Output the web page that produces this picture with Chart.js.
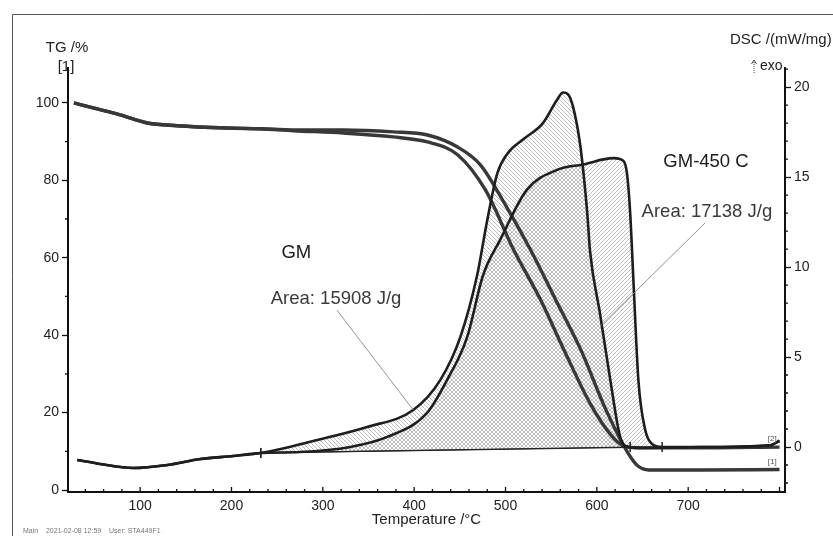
<!DOCTYPE html>
<html>
<head>
<meta charset="utf-8">
<title>TG / DSC</title>
<script src="https://cdn.jsdelivr.net/npm/chart.js@4/dist/chart.umd.min.js"></script>
<style>
  html, body { margin: 0; padding: 0; background: #fff; }
  #wrap { width: 833px; height: 536px; position: relative; }
</style>
</head>
<body>
<div id="wrap"><canvas id="tgChart" width="833" height="536"></canvas></div>
<script>
'use strict';

// axis tick values
var xTicks = [100, 200, 300, 400, 500, 600, 700];
var tgTicks = [0, 20, 40, 60, 80, 100];
var dscTicks = [0, 5, 10, 15, 20];

// TG curves (%), temperature in °C
var tgRun1Temp = [27.5, 48.5, 78, 108, 140.5, 195, 231.5, 268, 322.5, 377, 414.5, 447.5, 472.5, 500, 527.5, 555, 582.5, 610, 634, 645, 657, 714, 800];
var tgRun1 = [100, 98.7, 96.9, 94.8, 94.1, 93.5, 93.3, 93.0, 93.0, 92.5, 91.7, 88.6, 84.0, 73.6, 62.0, 49.1, 36.2, 20.7, 9.6, 6.2, 5.2, 5.2, 5.3];

var tgRun2Temp = [27.5, 48.5, 78, 108, 140.5, 195, 231.5, 268, 322.5, 377, 414.5, 447.5, 478, 509, 538.5, 564, 593.5, 615.5, 629.5, 648, 714, 800];
var tgRun2 = [100, 98.7, 96.9, 94.8, 94.1, 93.5, 93.3, 92.8, 92.2, 91.2, 89.9, 86.6, 77.5, 62.0, 49.1, 36.2, 22.0, 14.2, 11.4, 10.9, 10.9, 11.1];

// DSC curves (mW/mg)
var dscGMTemp = [31, 56, 92, 130, 166, 202, 232, 294, 348.5, 399, 428.5, 450.5, 469, 480, 491, 502, 519.5, 541, 556.5, 563, 568.5, 574, 582, 589.5, 592.5, 603.5, 614.5, 625.5, 633, 648, 715, 790, 800];
var dscGM = [-0.72, -0.94, -1.17, -1.0, -0.67, -0.5, -0.33, 0.39, 1.11, 2.06, 3.72, 6.11, 9.56, 12.6, 15.2, 16.3, 17.1, 18.0, 19.3, 19.7, 19.6, 18.9, 16.7, 13.0, 10.9, 7.4, 3.8, 0.56, 0.0, -0.05, 0.0, 0.1, 0.35];

var dscGM450Temp = [31, 56, 92, 130, 166, 202, 232, 275, 330, 370.5, 414, 436, 458, 475.5, 494, 523.5, 556.5, 585, 618, 629, 633, 636.5, 640, 645.5, 653, 660.5, 671.5, 715, 790, 800];
var dscGM450 = [-0.72, -0.94, -1.17, -1.0, -0.67, -0.5, -0.33, -0.28, 0.0, 0.56, 1.89, 3.72, 6.11, 9.56, 11.5, 14.3, 15.4, 15.7, 16.05, 15.9, 15.2, 13.0, 9.3, 3.7, 0.94, 0.17, 0.0, 0.0, 0.1, 0.35];

// integration baselines of the two peaks
var baseGMTemp = [232, 636.5];
var baseGM = [-0.33, 0.0];
var baseGM450Temp = [232, 671.5];
var baseGM450 = [-0.33, 0.0];

function pairs(xs, ys) {
    return xs.map(function (x, i) { return {x: x, y: ys[i]}; });
}

// diagonal hatch used for the peak areas
function hatch(dir) {
    var s = 4;
    var c = document.createElement('canvas');
    c.width = s; c.height = s;
    var g = c.getContext('2d');
    g.strokeStyle = '#a2a2a2';
    g.lineWidth = 0.7;
    g.beginPath();
    if (dir === 'back') {
        g.moveTo(0, 0); g.lineTo(s, s);
        g.moveTo(-1, s - 1); g.lineTo(1, s + 1);
        g.moveTo(s - 1, -1); g.lineTo(s + 1, 1);
    } else {
        g.moveTo(0, s); g.lineTo(s, 0);
        g.moveTo(-1, 1); g.lineTo(1, -1);
        g.moveTo(s - 1, s + 1); g.lineTo(s + 1, s - 1);
    }
    g.stroke();
    return g.createPattern(c, 'repeat');
}

var FONT = "'Liberation Sans', Arial, sans-serif";
Chart.defaults.font.family = FONT;
Chart.defaults.color = '#222';

// minor ticks, frame, headers and peak annotations
var decorations = {
    id: 'decorations',
    afterDraw: function (chart) {
        var ctx = chart.ctx, area = chart.chartArea;
        var x = chart.scales.x, yTG = chart.scales.yTG, yDSC = chart.scales.yDSC;
        var t, p, len;
        ctx.save();

        // page frame
        ctx.strokeStyle = '#555';
        ctx.lineWidth = 1;
        ctx.beginPath();
        ctx.moveTo(12.5, 536); ctx.lineTo(12.5, 14.5); ctx.lineTo(833, 14.5);
        ctx.stroke();

        ctx.strokeStyle = '#111';
        ctx.lineWidth = 1.3;
        ctx.beginPath();
        for (t = 40; t <= 800; t += 20) {
            p = x.getPixelForValue(t);
            len = t % 100 === 0 ? 5 : 3;
            ctx.moveTo(p, area.bottom); ctx.lineTo(p, area.bottom - len);
        }
        for (t = 10; t <= 100; t += 20) {
            p = yTG.getPixelForValue(t);
            ctx.moveTo(area.left, p); ctx.lineTo(area.left - 3, p);
        }
        for (t = -2; t <= 21; t += 1) {
            if (t % 5 === 0) continue;
            p = yDSC.getPixelForValue(t);
            ctx.moveTo(area.right, p); ctx.lineTo(area.right + 3, p);
        }
        ctx.stroke();

        // axis headers
        ctx.fillStyle = '#222';
        ctx.textAlign = 'center';
        ctx.textBaseline = 'middle';
        ctx.font = '15px ' + FONT;
        ctx.fillText('TG /%', 67, 48);
        ctx.fillText('[1]', 66, 67);
        ctx.textAlign = 'left';
        ctx.fillText('DSC /(mW/mg)', 730, 40);
        ctx.font = '14px ' + FONT;
        ctx.fillText('exo', 760, 66);
        ctx.setLineDash([1, 1]);
        ctx.lineWidth = 1;
        ctx.strokeStyle = '#444';
        ctx.beginPath();
        ctx.moveTo(754, 73); ctx.lineTo(754, 61);
        ctx.stroke();
        ctx.setLineDash([]);
        ctx.beginPath();
        ctx.moveTo(751.5, 64); ctx.lineTo(754, 60); ctx.lineTo(756.5, 64);
        ctx.stroke();

        // curve end tags
        ctx.font = '8px ' + FONT;
        ctx.fillStyle = '#555';
        ctx.fillText('[2]', x.getPixelForValue(796) - 8, yDSC.getPixelForValue(0.45));
        ctx.fillText('[1]', x.getPixelForValue(796) - 8, yTG.getPixelForValue(7.2));

        // leader lines to the peak areas
        ctx.strokeStyle = '#777';
        ctx.lineWidth = 0.8;
        ctx.beginPath();
        ctx.moveTo(x.getPixelForValue(315.5), yDSC.getPixelForValue(7.6));
        ctx.lineTo(x.getPixelForValue(399), yDSC.getPixelForValue(2.06));
        ctx.moveTo(x.getPixelForValue(718.5), yDSC.getPixelForValue(12.45));
        ctx.lineTo(x.getPixelForValue(603.5), yDSC.getPixelForValue(6.7));
        ctx.stroke();

        // peak labels
        ctx.textAlign = 'center';
        ctx.font = '18.5px ' + FONT;
        ctx.fillStyle = '#1a1a1a';
        ctx.fillText('GM', x.getPixelForValue(271), yDSC.getPixelForValue(10.78));
        ctx.fillText('GM-450 C', x.getPixelForValue(719.5), yDSC.getPixelForValue(15.83));
        ctx.fillStyle = '#3a3a3a';
        ctx.fillText('Area: 15908 J/g', x.getPixelForValue(314.5), yDSC.getPixelForValue(8.22));
        ctx.fillText('Area: 17138 J/g', x.getPixelForValue(720.5), yDSC.getPixelForValue(13.06));

        // footer
        ctx.textAlign = 'left';
        ctx.font = '7px ' + FONT;
        ctx.fillStyle = '#777';
        ctx.fillText('Main    2021-02-08 12:59    User: STA449F1', 23, 531);

        ctx.restore();
    }
};

var ctx = document.getElementById('tgChart').getContext('2d');
var hatchGM = hatch('back');
var hatchGM450 = hatch('fwd');

var curve = {
    pointRadius: 0,
    cubicInterpolationMode: 'monotone',
    fill: false
};

new Chart(ctx, {
    type: 'line',
    data: {
        datasets: [
            {
                label: 'Baseline GM', yAxisID: 'yDSC',
                data: pairs(baseGMTemp, baseGM),
                borderColor: '#222', borderWidth: 1.2,
                pointStyle: 'line', pointRotation: 90, pointRadius: 5,
                pointBorderColor: '#222', pointBorderWidth: 1.5, fill: false
            },
            {
                label: 'Baseline GM-450', yAxisID: 'yDSC',
                data: pairs(baseGM450Temp, baseGM450),
                borderColor: '#222', borderWidth: 1.2,
                pointStyle: 'line', pointRotation: 90, pointRadius: 5,
                pointBorderColor: '#222', pointBorderWidth: 1.5, fill: false
            },
            Object.assign({}, curve, {
                label: 'DSC GM', yAxisID: 'yDSC',
                data: pairs(dscGMTemp, dscGM),
                borderColor: '#1e1e1e', borderWidth: 2.6,
                backgroundColor: hatchGM,
                fill: 0
            }),
            Object.assign({}, curve, {
                label: 'DSC GM-450 C', yAxisID: 'yDSC',
                data: pairs(dscGM450Temp, dscGM450),
                borderColor: '#1e1e1e', borderWidth: 2.6,
                backgroundColor: hatchGM450,
                fill: 1
            }),
            Object.assign({}, curve, {
                label: 'TG [1]', yAxisID: 'yTG',
                data: pairs(tgRun1Temp, tgRun1),
                borderColor: '#383838', borderWidth: 3.4
            }),
            Object.assign({}, curve, {
                label: 'TG [2]', yAxisID: 'yTG',
                data: pairs(tgRun2Temp, tgRun2),
                borderColor: '#383838', borderWidth: 3.4
            })
        ]
    },
    options: {
        responsive: false,
        animation: false,
        devicePixelRatio: 1,
        layout: {padding: {top: 68, left: 0, right: 0, bottom: 0}},
        plugins: {
            legend: {display: false},
            tooltip: {enabled: false},
            filler: {drawTime: 'beforeDatasetsDraw'}
        },
        scales: {
            x: {
                type: 'linear',
                position: 'bottom',
                min: 21, max: 806,
                afterBuildTicks: function (scale) {
                    scale.ticks = xTicks.map(function (v) { return {value: v}; });
                },
                afterFit: function (scale) { scale.height = 44; },
                grid: {display: true, drawOnChartArea: false, drawTicks: false},
                border: {display: true, color: '#111', width: 2},
                ticks: {font: {size: 14}, color: '#222', padding: 6, maxRotation: 0},
                title: {
                    display: true, text: 'Temperature /°C',
                    font: {size: 15}, color: '#222',
                    padding: {top: 0, bottom: 7}
                }
            },
            yTG: {
                type: 'linear',
                position: 'left',
                min: -0.5, max: 109,
                afterBuildTicks: function (scale) {
                    scale.ticks = tgTicks.map(function (v) { return {value: v}; });
                },
                afterFit: function (scale) { scale.width = 68; },
                grid: {drawOnChartArea: false, drawTicks: true, tickLength: 6, tickColor: '#111', tickWidth: 1.3},
                border: {display: true, color: '#111', width: 2},
                ticks: {font: {size: 14}, color: '#222', padding: 3}
            },
            yDSC: {
                type: 'linear',
                position: 'right',
                min: -2.5, max: 21.06,
                afterBuildTicks: function (scale) {
                    scale.ticks = dscTicks.map(function (v) { return {value: v}; });
                },
                afterFit: function (scale) { scale.width = 48; },
                grid: {drawOnChartArea: false, drawTicks: true, tickLength: 6, tickColor: '#111', tickWidth: 1.3},
                border: {display: true, color: '#111', width: 2},
                ticks: {font: {size: 14}, color: '#222', padding: 3}
            }
        }
    },
    plugins: [decorations]
});
</script>
</body>
</html>
